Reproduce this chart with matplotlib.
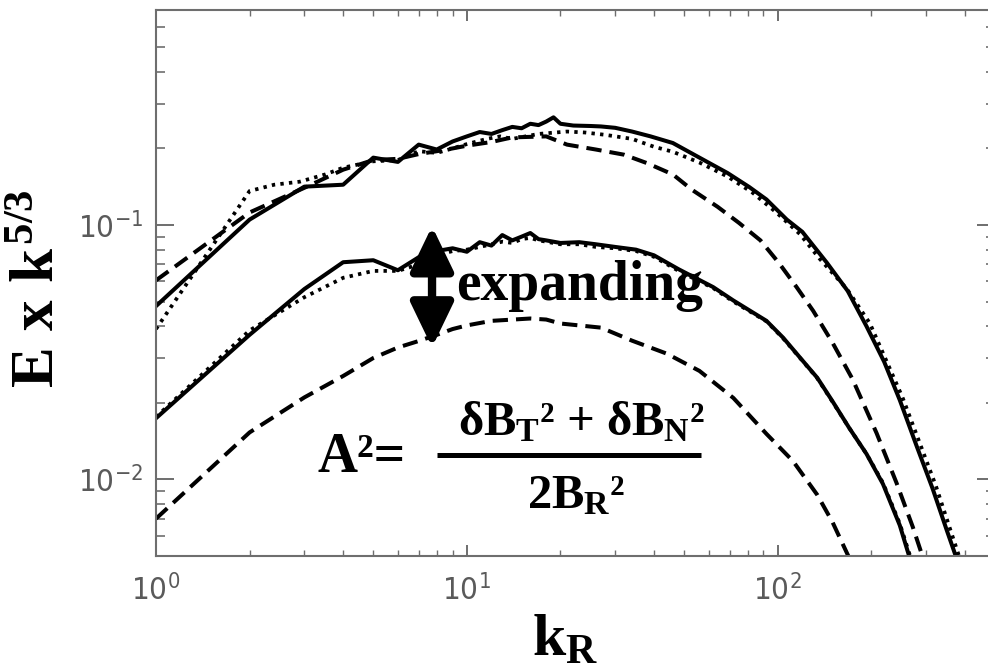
import matplotlib
matplotlib.use('Agg')
import matplotlib.pyplot as plt
from matplotlib import font_manager
from matplotlib.patches import FancyArrowPatch
from matplotlib.lines import Line2D
from matplotlib.ticker import NullFormatter

# upper group of spectra (E x k^5/3 vs k_R)
k_up_solid = [1, 2, 3, 4, 5, 6, 7, 8, 9, 10, 11, 12, 13, 14, 15, 16, 17, 18, 19, 20,
              22, 25, 27, 30, 34, 39, 46, 56, 69, 81, 92, 107, 120, 144, 168, 193,
              220, 247, 280, 315, 350, 376]
E_up_solid = [0.048, 0.105, 0.1415, 0.144, 0.184, 0.177, 0.207, 0.198, 0.213, 0.223,
              0.232, 0.228, 0.236, 0.243, 0.240, 0.250, 0.247, 0.255, 0.265, 0.250,
              0.246, 0.245, 0.244, 0.241, 0.233, 0.223, 0.210, 0.184, 0.160, 0.141,
              0.126, 0.105, 0.094, 0.071, 0.055, 0.040, 0.029, 0.0205, 0.0135, 0.0092,
              0.0063, 0.0049]

k_up_dot = [1, 2, 2.4, 2.9, 3.5, 4, 5, 6, 7, 8, 9, 10, 11.6, 12.8, 14, 17, 21, 24, 28,
            34, 40, 46, 56, 69, 83, 99, 118, 136, 167, 198, 252, 322, 385]
E_up_dot = [0.039, 0.136, 0.144, 0.148, 0.158, 0.168, 0.178, 0.180, 0.195, 0.192, 0.200,
            0.208, 0.218, 0.223, 0.218, 0.228, 0.233, 0.231, 0.226, 0.218, 0.203, 0.194,
            0.176, 0.155, 0.134, 0.112, 0.092, 0.074, 0.056, 0.041, 0.021, 0.0095, 0.0049]

k_up_dash = [1, 2, 3, 4, 5, 6, 7, 8, 9, 10, 12, 14, 18, 21, 26, 32, 38, 46, 53, 64, 75,
             88, 101, 115, 130, 150, 174, 208, 241, 272, 292]
E_up_dash = [0.0606, 0.112, 0.140, 0.165, 0.180, 0.182, 0.190, 0.195, 0.200, 0.205,
             0.212, 0.221, 0.223, 0.207, 0.198, 0.189, 0.175, 0.158, 0.1375, 0.118,
             0.102, 0.087, 0.0708, 0.057, 0.046, 0.0345, 0.0248, 0.0152, 0.0097, 0.0065,
             0.0050]

# lower group of spectra
k_lo_solid = [1, 2, 3, 4, 5, 6, 7, 8, 9, 10, 11, 12, 13, 14, 15, 16, 17, 18, 20, 23, 26,
              30, 35, 40, 48, 62, 72, 92, 104, 118, 134, 150, 170, 193, 218, 247, 266]
E_lo_solid = [0.0174, 0.037, 0.056, 0.0714, 0.0727, 0.0664, 0.0747, 0.079, 0.081,
              0.0785, 0.0856, 0.083, 0.0913, 0.087, 0.090, 0.093, 0.088, 0.087, 0.085,
              0.0856, 0.084, 0.082, 0.080, 0.076, 0.067, 0.057, 0.0505, 0.042, 0.0361,
              0.0301, 0.0251, 0.0203, 0.0159, 0.0126, 0.0096, 0.0066, 0.0049]

k_lo_dot = [1, 2, 3, 4, 5, 6, 7, 8, 9, 10, 11, 12, 13, 14, 15, 16, 17, 18, 20, 23, 26,
            30, 35, 40, 48, 62, 72, 92, 104, 118, 134, 150, 170, 193, 218, 247, 268]
E_lo_dot = [0.0176, 0.0385, 0.052, 0.062, 0.066, 0.066, 0.070, 0.076, 0.079, 0.080,
            0.082, 0.084, 0.086, 0.085, 0.088, 0.089, 0.087, 0.086, 0.084, 0.084, 0.082,
            0.081, 0.079, 0.075, 0.066, 0.0565, 0.050, 0.0418, 0.0359, 0.030, 0.025,
            0.0202, 0.0159, 0.0126, 0.0097, 0.0067, 0.0049]

k_lo_dash = [1, 2, 3, 4, 5, 6, 7, 8, 9, 10, 12, 16, 18, 20, 27, 34, 44, 56, 72, 92, 112,
             134, 150, 170]
E_lo_dash = [0.00701, 0.0153, 0.021, 0.0255, 0.030, 0.033, 0.035, 0.037, 0.039, 0.0403,
             0.042, 0.0429, 0.0425, 0.041, 0.0395, 0.0351, 0.0312, 0.0267, 0.0209,
             0.0151, 0.0118, 0.0087, 0.0068, 0.0049]

# fonts: narrow sans for tick labels, Times-like bold for annotations
names = {f.name for f in font_manager.fontManager.ttflist}
tick_font = 'Liberation Sans Narrow' if 'Liberation Sans Narrow' in names else 'DejaVu Sans'
plt.rcParams['font.family'] = tick_font
plt.rcParams['font.stretch'] = 'condensed'
plt.rcParams['mathtext.fontset'] = 'custom'
for key in ('rm', 'it', 'bf', 'sf'):
    plt.rcParams['mathtext.' + key] = 'Liberation Serif:bold'
serif = dict(family='Liberation Serif', weight='bold', stretch='normal')

fig = plt.figure(figsize=(9.88, 6.72), dpi=100)
ax = fig.add_axes([156 / 988, 116 / 672, 839 / 988, 546 / 672])

solid = dict(color='black', lw=2.9, solid_joinstyle='round')
dotted = dict(color='black', lw=2.7, linestyle=(0, (0.9, 1.4)), dash_capstyle='butt')
dashed = dict(color='black', lw=2.9, linestyle=(0, (3.8, 2.0)), dash_capstyle='butt')

ax.plot(k_up_dash, E_up_dash, **dashed)
ax.plot(k_up_dot, E_up_dot, **dotted)
ax.plot(k_up_solid, E_up_solid, **solid)
ax.plot(k_lo_dash, E_lo_dash, **dashed)
ax.plot(k_lo_dot, E_lo_dot, **dotted)
ax.plot(k_lo_solid, E_lo_solid, **solid)

ax.set_xscale('log')
ax.set_yscale('log')
ax.set_xlim(1, 500)
ax.set_ylim(0.005, 0.7)
ax.xaxis.set_minor_formatter(NullFormatter())
ax.yaxis.set_minor_formatter(NullFormatter())

axis_grey = '#6e6e6e'
for sp in ax.spines.values():
    sp.set_color(axis_grey)
    sp.set_linewidth(1.5)
ax.tick_params(which='both', direction='in', top=True, right=True,
               color=axis_grey, labelcolor='#5a5a5a', labelsize=22.5)
ax.tick_params(axis='x', which='major', length=8, width=1.4, pad=13)
ax.tick_params(axis='x', which='minor', length=4.3, width=1.0)
ax.tick_params(axis='y', which='major', length=13, width=1.4, pad=9)
ax.tick_params(axis='y', which='minor', length=6.5, width=1.2)

# axis labels
fig.text(37 / 988, 1 - 289 / 672, r'$E\ x\ k^{5/3}$', rotation=90,
         ha='center', va='center', fontsize=44)
fig.text(565 / 988, 1 - 656 / 672, r'$k_R$', ha='center', va='baseline', fontsize=43)

# double arrow and "expanding"
arrow = FancyArrowPatch((0.329, 0.382), (0.329, 0.604), transform=ax.transAxes,
                        arrowstyle='<|-|>,head_length=27,head_width=13',
                        mutation_scale=1, lw=6, color='black',
                        shrinkA=0, shrinkB=0)
ax.add_patch(arrow)
fig.text(580 / 988, 1 - 300 / 672, 'expanding', ha='center', va='baseline',
         fontsize=40, **serif)

# A^2 definition
fig.text(317 / 988, 1 - 472 / 672, 'A²=', ha='left', va='baseline',
         fontsize=40, **serif)
fig.add_artist(Line2D([437 / 988, 701 / 988], [1 - 455 / 672] * 2, lw=3.6,
                      color='black', solid_capstyle='butt', transform=fig.transFigure))
fig.text(581 / 988, 1 - 435 / 672, r'$\delta B_{T}$² + $\delta B_{N}$²',
         ha='center', va='baseline', fontsize=35, **serif)
fig.text(576 / 988, 1 - 508 / 672, r'2$B_{R}$²', ha='center', va='baseline',
         fontsize=35, **serif)

fig.savefig('out.png', dpi=100)
